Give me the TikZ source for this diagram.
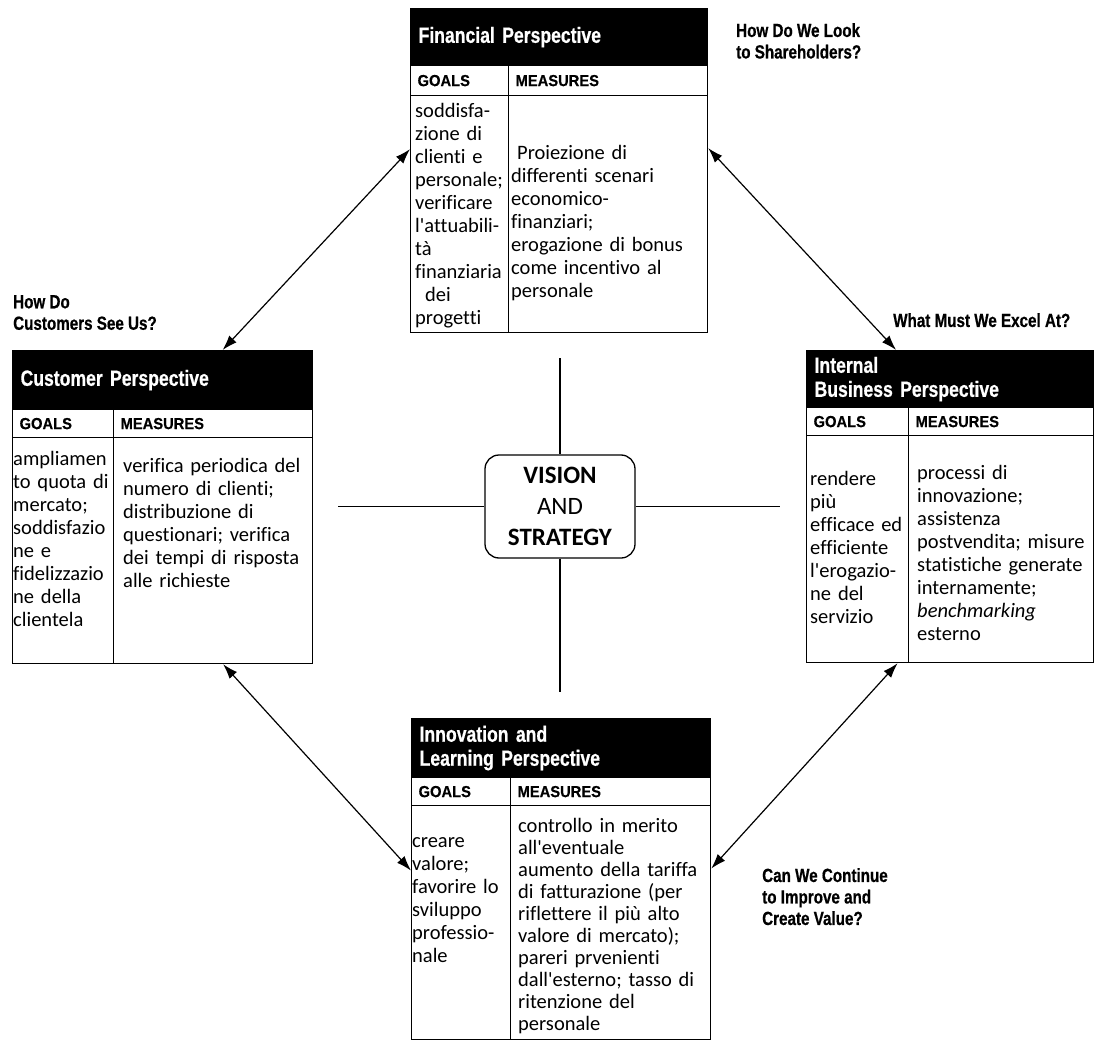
\documentclass[tikz,border=0pt]{standalone}
\usepackage{fontspec}
\setmainfont[Ligatures=NoCommon]{Carlito}
\newfontfamily\headfont[FakeStretch=0.8, FakeBold=0.6]{Liberation Sans Bold}
\newfontfamily\colfont[FakeStretch=0.92, FakeBold=0.4]{Liberation Sans Bold}
\usetikzlibrary{arrows.meta}
\tikzset{
    % Node styles - all with sharp corners
    headbox/.style={
        rectangle,
        anchor=north west,
        draw=black,
        fill=black,
        text=white,
        line width=1.2pt,
        inner xsep=8pt,
        inner ysep=0pt,
        align=left,
        font=\headfont\fontsize{22}{24}\selectfont
    },
    colbox/.style={
        rectangle,
        anchor=north west,
        draw=black,
        line width=1.2pt,
        inner xsep=7pt,
        inner ysep=0pt,
        align=left,
        font=\colfont\fontsize{16}{18}\selectfont
    },
    bodybox/.style={
        rectangle,
        anchor=north west,
        draw=black,
        line width=1.2pt,
        inner sep=0pt
    },
    celltext/.style={
        anchor=north west,
        inner sep=0pt,
        align=left,
        font=\fontsize{20.5}{23}\selectfont,
        execute at begin node=\rule{0pt}{15pt}
    },
    question/.style={
        anchor=north west,
        inner sep=0pt,
        align=left,
        font=\headfont\fontsize{19}{21.5}\selectfont
    },
    visionbox/.style={
        rectangle,
        rounded corners=14pt,
        draw=black,
        line width=1.3pt,
        minimum width=150pt,
        minimum height=103pt,
        align=center,
        font=\fontsize{25}{31}\selectfont
    },
    % Arrow styles
    twoway/.style={
        <->,
        >={Latex[length=15pt,width=10pt]},
        line width=1.2pt
    },
    crossline/.style={
        line width=1.3pt
    }
}

\begin{document}
\begin{tikzpicture}[x=1pt, y=-1pt]
    \useasboundingbox (0,0) rectangle (1099,1040);

    % Financial perspective
    \node[headbox, text width=281pt, minimum height=57pt] (finhead) at (410,8) {Financial Perspective};
    \node[colbox, text width=84pt, minimum height=30pt] (fingoalshd) at (410,65) {GOALS};
    \node[colbox, text width=185pt, minimum height=30pt] (finmeashd) at (508,65) {MEASURES};
    \node[bodybox, minimum width=98pt, minimum height=237pt] (fingoals) at (410,95) {};
    \node[bodybox, minimum width=199pt, minimum height=237pt] (finmeas) at (508,95) {};
    \node[celltext, text width=100pt] (fingoalstxt) at (415,102) {soddisfa-\\zione di\\clienti e\\personale;\\verificare\\l\textquotesingle attuabili-\\tà\\finanziaria\\\hspace*{10pt}dei\\progetti};
    \node[celltext, text width=200pt] (finmeastxt) at (511,144) {\hspace*{6pt}Proiezione di\\differenti scenari\\economico-\\finanziari;\\erogazione di bonus\\come incentivo al\\personale};

    % Customer perspective
    \node[headbox, text width=284pt, minimum height=59pt] (cushead) at (12,350) {Customer Perspective};
    \node[colbox, text width=87pt, minimum height=28pt] (cusgoalshd) at (12,409) {GOALS};
    \node[colbox, text width=185pt, minimum height=28pt] (cusmeashd) at (113,409) {MEASURES};
    \node[bodybox, minimum width=101pt, minimum height=226pt] (cusgoals) at (12,437) {};
    \node[bodybox, minimum width=199pt, minimum height=226pt] (cusmeas) at (113,437) {};
    \node[celltext, text width=100pt] (cusgoalstxt) at (13,450) {ampliamen\\to quota di\\mercato;\\soddisfazio\\ne e\\fidelizzazio\\ne della\\clientela};
    \node[celltext, text width=200pt] (cusmeastxt) at (123,457) {verifica periodica del\\numero di clienti;\\distribuzione di\\questionari; verifica\\dei tempi di risposta\\alle richieste};

    % Internal business perspective
    \node[headbox, text width=271pt, minimum height=57pt] (inthead) at (806,350) {Internal\\Business Perspective};
    \node[colbox, text width=88pt, minimum height=28pt] (intgoalshd) at (806,407) {GOALS};
    \node[colbox, text width=171pt, minimum height=28pt] (intmeashd) at (908,407) {MEASURES};
    \node[bodybox, minimum width=102pt, minimum height=227pt] (intgoals) at (806,435) {};
    \node[bodybox, minimum width=185pt, minimum height=227pt] (intmeas) at (908,435) {};
    \node[celltext, text width=100pt] (intgoalstxt) at (810,470) {rendere\\più\\efficace ed\\efficiente\\l\textquotesingle erogazio-\\ne del\\servizio};
    \node[celltext, text width=200pt] (intmeastxt) at (917,464) {processi di\\innovazione;\\assistenza\\postvendita; misure\\statistiche generate\\internamente;\\\textit{benchmarking}\\esterno};

    % Innovation and learning perspective
    \node[headbox, text width=283pt, minimum height=59pt] (innhead) at (411,718) {Innovation and\\Learning Perspective};
    \node[colbox, text width=85pt, minimum height=28pt] (inngoalshd) at (411,777) {GOALS};
    \node[colbox, text width=186pt, minimum height=28pt] (innmeashd) at (510,777) {MEASURES};
    \node[bodybox, minimum width=99pt, minimum height=234pt] (inngoals) at (411,805) {};
    \node[bodybox, minimum width=200pt, minimum height=234pt] (innmeas) at (510,805) {};
    \node[celltext, text width=100pt] (inngoalstxt) at (412,832) {creare\\valore;\\favorire lo\\sviluppo\\professio-\\nale};
    \node[celltext, text width=200pt, font=\fontsize{20.5}{22}\selectfont] (innmeastxt) at (518,817) {controllo in merito\\all\textquotesingle eventuale\\aumento della tariffa\\di fatturazione (per\\riflettere il più alto\\valore di mercato);\\pareri prvenienti\\dall\textquotesingle esterno; tasso di\\ritenzione del\\personale};

    % Vision and strategy
    \node[visionbox] (vision) at (560,506.5) {\textbf{VISION}\\AND\\\textbf{STRATEGY}};
    \coordinate (crossN) at (560,358);
    \coordinate (crossS) at (560,692);
    \coordinate (crossW) at (338,506.5);
    \coordinate (crossE) at (780,506.5);
    \draw[crossline] (crossN) -- (vision.north);
    \draw[crossline] (vision.south) -- (crossS);
    \draw[crossline] (crossW) -- (vision.west);
    \draw[crossline] (vision.east) -- (crossE);

    % Arrows
    \draw[twoway] ([xshift=60pt]cushead.north) -- ([yshift=65pt]fingoals.west);
    \draw[twoway] ([yshift=66pt]finmeas.east) -- ([xshift=-54pt]inthead.north);
    \draw[twoway] ([xshift=10pt]cusmeas.south) -- ([yshift=52pt]inngoals.west);
    \draw[twoway] ([xshift=40pt]intgoals.south) -- ([yshift=54pt]innmeas.east);

    % Questions
    \node[question] (qfin) at (736,23) {How Do We Look\\to Shareholders?};
    \node[question] (qcus) at (13,295) {How Do\\Customers See Us?};
    \node[question] (qint) at (893,313) {What Must We Excel At?};
    \node[question] (qinn) at (762,868) {Can We Continue\\to Improve and\\Create Value?};
\end{tikzpicture}
\end{document}
